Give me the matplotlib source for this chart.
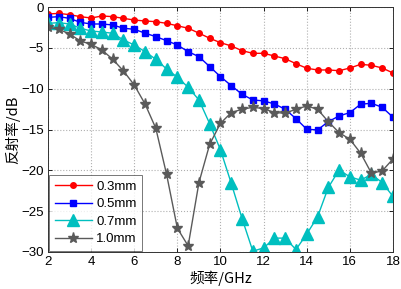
import numpy as np
import matplotlib
matplotlib.use("Agg")
import matplotlib.pyplot as plt

plt.rcParams['font.family'] = ['Liberation Sans', 'Noto Sans CJK SC', 'DejaVu Sans']
plt.rcParams['axes.unicode_minus'] = True

freq = np.arange(2, 18.01, 0.5)

r03 = [-0.86, -0.78, -0.94, -1.18, -1.35, -1.1, -1.18, -1.39, -1.6, -1.71, -1.8, -2.0, -2.3, -2.6, -3.2,
       -3.83, -4.37, -4.77, -5.35, -5.67, -5.67, -6.0, -6.33, -6.94, -7.5, -7.71, -7.71, -7.8, -7.47,
       -7.02, -7.14, -7.47, -8.08]
r05 = [-1.27, -1.18, -1.39, -1.88, -2.08, -2.08, -2.2, -2.6, -2.73, -3.2, -3.63, -4.12, -4.65, -5.47, -6.08,
       -7.3, -8.53, -9.63, -10.69, -11.38, -11.5, -11.87, -12.52, -13.67, -14.97, -15.05, -14.04, -13.34,
       -12.93, -11.9, -11.79, -12.28, -13.5]
r07 = [-2.0, -1.92, -2.08, -2.6, -2.94, -3.06, -3.22, -4.04, -4.65, -5.47, -6.4, -7.59, -8.6, -9.83, -11.38,
       -14.3, -17.5, -21.6, -25.9, -29.9, -29.5, -28.3, -28.3, -29.7, -27.8, -25.7, -22.1, -19.95, -20.8,
       -21.2, -20.5, -21.5, -23.2]
r10 = [-2.49, -2.73, -3.3, -4.16, -4.57, -5.26, -6.4, -7.83, -9.55, -11.87, -14.85, -20.5, -27.1, -29.25, -21.5,
       -16.8, -14.24, -12.93, -12.52, -12.28, -12.44, -12.93, -13.0, -12.52, -12.12, -12.52, -14.04, -15.38,
       -16.2, -17.9, -20.35, -20.07, -18.6]

labels = ['0.3mm', '0.5mm', '0.7mm', '1.0mm']
xticks = [2, 4, 6, 8, 10, 12, 14, 16, 18]
yticks = [0, -5, -10, -15, -20, -25, -30]

fig = plt.figure(figsize=(4.02, 2.89), dpi=100)
ax = fig.add_axes([48/402, 1-252/289, (393-48)/402, (252-7)/289])

ax.plot(freq, r03, color='#ff0000', marker='o', ms=4, lw=1, label=labels[0])
ax.plot(freq, r05, color='#0000ff', marker='s', ms=4, lw=1, label=labels[1])
ax.plot(freq, r07, color='#00bfbf', marker='^', ms=8, lw=1, label=labels[2])
ax.plot(freq, r10, color='#5a5a5a', marker='*', ms=8, lw=1, label=labels[3])

ax.set_xlim(2, 18)
ax.set_ylim(-30, 0)
ax.set_xticks(xticks)
ax.set_yticks(yticks)
ax.tick_params(direction='in', labelsize=9.5, length=3, width=0.6, top=True, right=True, pad=3)
ax.grid(True, linestyle=':', color='#b0b0b0', linewidth=0.8)
for s in ax.spines.values():
    s.set_linewidth(0.7)
    s.set_color('#333333')

ax.set_xlabel('频率/GHz', fontsize=10.5, family=['Noto Sans CJK SC', 'Liberation Sans'], labelpad=2)
ax.set_ylabel('反射率/dB', fontsize=10.5, family=['Noto Sans CJK SC', 'Liberation Sans'], labelpad=1)

leg = ax.legend(loc='lower left', fontsize=9.5, handlelength=2.8, frameon=True, fancybox=False,
                borderaxespad=0.1, labelspacing=0.4, handletextpad=0.35, borderpad=0.4)
leg.get_frame().set_edgecolor('#555555')
leg.get_frame().set_linewidth(0.7)

fig.savefig('out.png', dpi=100)
